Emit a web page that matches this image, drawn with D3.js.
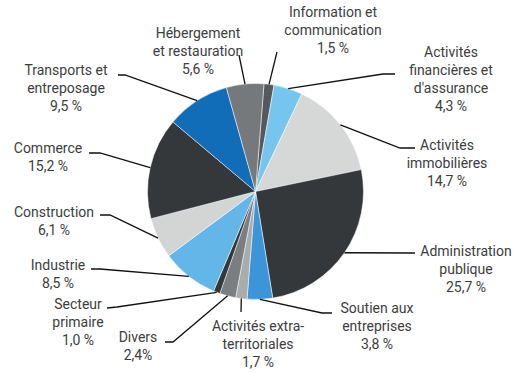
<!DOCTYPE html>
<html>
<head>
<meta charset="utf-8">
<script src="https://cdn.jsdelivr.net/npm/d3@7"></script>
<style>
  body { margin: 0; background: #fff; }
  svg { display: block; }
</style>
</head>
<body>
<section></section>
<script>
// Données (ordre des secteurs dans le sens horaire, à partir du haut)
const categories = [
    "Information et communication", "Activités financières et d'assurance",
    "Activités immobilières", "Administration publique", "Soutien aux entreprises",
    "Activités extra-territoriales", "Divers", "Secteur primaire", "Industrie",
    "Construction", "Commerce", "Transports et entreposage", "Hébergement et restauration"
];
const values = [1.5, 4.3, 14.7, 25.7, 3.8, 1.7, 2.4, 1.0, 8.5, 6.1, 15.2, 9.5, 5.6];
const labelLines = [
    ["Information et", "communication"],
    ["Activités", "financières et", "d'assurance"],
    ["Activités", "immobilières"],
    ["Administration", "publique"],
    ["Soutien aux", "entreprises"],
    ["Activités extra-", "territoriales"],
    ["Divers"],
    ["Secteur", "primaire"],
    ["Industrie"],
    ["Construction"],
    ["Commerce"],
    ["Transports et", "entreposage"],
    ["Hébergement", "et restauration"]
];
const valueLabels = ["1,5 %", "4,3 %", "14,7 %", "25,7 %", "3,8 %", "1,7 %", "2,4%",
    "1,0 %", "8,5 %", "6,1 %", "15,2 %", "9,5 %", "5,6 %"];

const colors = ["#55595c", "#75c5ef", "#d6d7d7", "#35383b", "#3b95d8", "#a9abad", "#7b7e81",
    "#35383b", "#62b6e8", "#d3d4d4", "#35383b", "#116db8", "#76797c"];

// Mise en page des étiquettes : centre du texte, ligne de base de la 1re ligne, coude du trait
const labelLayout = [
    {x: 333, y: 17, leader: [[277, 52]]},
    {x: 451, y: 57, leader: [[395, 74], [383, 74]]},
    {x: 447, y: 150, leader: [[415, 148], [400, 148]]},
    {x: 466, y: 256, leader: [[415, 253]]},
    {x: 377, y: 313, leader: [[332, 313], [322, 313]]},
    {x: 258, y: 331, leader: [[241, 312]]},
    {x: 138, y: 342, leader: [[165, 342], [173, 342]]},
    {x: 78, y: 309, leader: [[107, 308], [117, 307]]},
    {x: 58, y: 270, leader: [[91, 269], [100, 269]]},
    {x: 54, y: 217, leader: [[100, 215], [110, 215]]},
    {x: 48, y: 153, leader: [[89, 153], [100, 153]]},
    {x: 66, y: 75, leader: [[118, 75], [125, 75]]},
    {x: 198, y: 38, leader: [[239, 55]]}
];

const width = 521;
const height = 373;
const cx = 255.5;
const cy = 191.5;
const radius = 108;
const lineHeight = 18;

const data = categories.map((c, i) => ({
    category: c, value: values[i], lines: labelLines[i], valueLabel: valueLabels[i],
    color: colors[i], layout: labelLayout[i]
}));

const startAngle = 4.5 * Math.PI / 180;
const pie = d3.pie()
    .value(d => d.value)
    .sort(null)
    .startAngle(startAngle)
    .endAngle(startAngle + 2 * Math.PI);

const arcs = pie(data);

const arc = d3.arc()
    .innerRadius(0)
    .outerRadius(radius);

const svg = d3.select("section")
    .append("svg")
    .attr("width", width)
    .attr("height", height)
    .attr("viewBox", [0, 0, width, height]);

const g = svg.append("g")
    .attr("transform", `translate(${cx},${cy})`);

g.selectAll("path")
    .data(arcs)
    .join("path")
    .attr("d", arc)
    .attr("fill", d => d.data.color)
    .attr("stroke", "#fff")
    .attr("stroke-width", 0.5);

// Traits de rappel
const line = d3.line();
svg.append("g")
    .attr("fill", "none")
    .attr("stroke", "#111")
    .attr("stroke-width", 1.3)
    .selectAll("path")
    .data(arcs)
    .join("path")
    .attr("d", d => {
        const mid = (d.startAngle + d.endAngle) / 2;
        const px = cx + radius * Math.sin(mid);
        const py = cy - radius * Math.cos(mid);
        return line([...d.data.layout.leader, [px, py]]);
    });

// Étiquettes
const labels = svg.append("g")
    .attr("font-family", "Roboto, sans-serif")
    .attr("font-size", 14)
    .attr("fill", "#3d3d3d")
    .attr("text-anchor", "middle")
    .selectAll("text")
    .data(data)
    .join("text")
    .attr("x", d => d.layout.x)
    .attr("y", d => d.layout.y);

labels.selectAll("tspan")
    .data(d => [...d.lines, d.valueLabel].map(t => ({t, x: d.layout.x})))
    .join("tspan")
    .attr("x", d => d.x)
    .attr("dy", (d, i) => i === 0 ? 0 : lineHeight)
    .text(d => d.t);
</script>
</body>
</html>
